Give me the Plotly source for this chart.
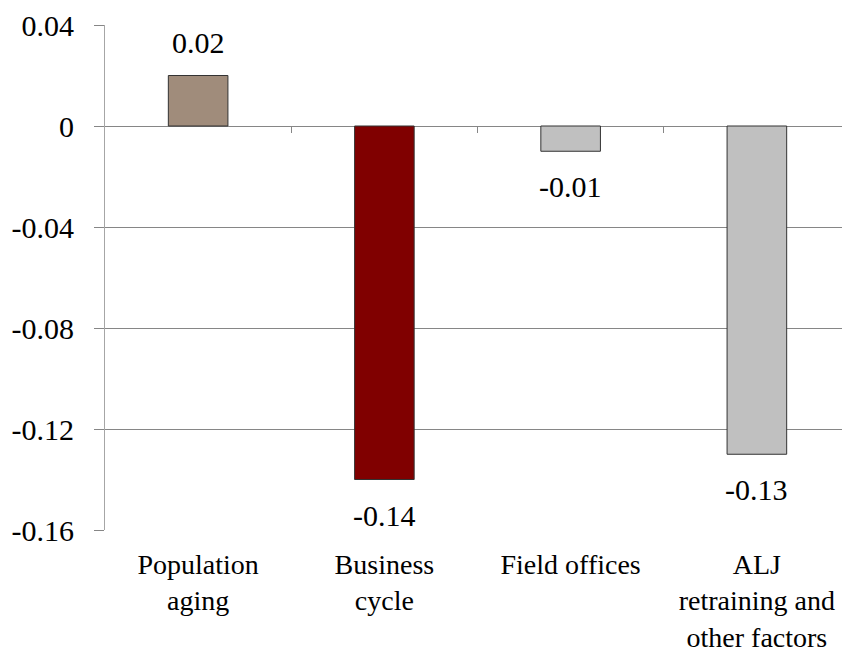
import plotly.graph_objects as go

categories = ["Population<br>aging", "Business<br>cycle", "Field offices", "ALJ<br>retraining and<br>other factors"]
values = [0.02, -0.14, -0.01, -0.13]
labels = ["0.02", "-0.14", "-0.01", "-0.13"]
colors = ["#A08C7B", "#800000", "#C0C0C0", "#C0C0C0"]
ytick_vals = [0.04, 0, -0.04, -0.08, -0.12, -0.16]
ytick_text = ["0.04", "0", "-0.04", "-0.08", "-0.12", "-0.16"]

FONT = "Liberation Serif"
fnt = dict(family=FONT, size=30, color="black")
xfnt = dict(family=FONT, size=28, color="black")
xs = list(range(len(categories)))

fig = go.Figure()
fig.add_trace(go.Bar(
    x=xs, y=values, width=0.32,
    marker=dict(color=colors, line=dict(color="#333333", width=1)),
    showlegend=False, hoverinfo="skip",
))
# invisible trace for the tick axis at zero
fig.add_trace(go.Scatter(x=[xs[0]], y=[0], xaxis="x2", mode="markers",
                         marker=dict(opacity=0), showlegend=False, hoverinfo="skip"))

for x, v, t in zip(xs, values, labels):
    fig.add_annotation(x=x, y=v, text=t, showarrow=False,
                       yanchor="bottom" if v >= 0 else "top",
                       yshift=15 if v >= 0 else -17,
                       font=fnt)

fig.update_layout(
    width=850, height=656,
    margin=dict(l=97, r=8, t=17, b=134, autoexpand=False),
    paper_bgcolor="white", plot_bgcolor="white",
    font=fnt,
    xaxis=dict(range=[-0.5, 3.5], tickvals=xs, ticktext=categories, tickfont=xfnt,
               showgrid=False, zeroline=False, showline=False, ticks="",
               ticklabelstandoff=15, automargin=False),
    xaxis2=dict(overlaying="x", anchor="free", position=0.8, range=[-0.5, 3.5],
                tickvals=[0.5, 1.5, 2.5], ticks="outside", ticklen=6, tickcolor="#868686",
                showticklabels=False, showgrid=False, showline=False, zeroline=False,
                side="bottom", automargin=False),
    yaxis=dict(range=[-0.16, 0.04], tickvals=ytick_vals, ticktext=ytick_text, tickfont=fnt,
               showgrid=True, gridcolor="#868686", gridwidth=1,
               zeroline=True, zerolinecolor="#868686", zerolinewidth=1,
               showline=True, linecolor="#A6A6A6", linewidth=1,
               ticks="outside", ticklen=10, tickcolor="#868686",
               ticklabelstandoff=14, automargin=False),
)

fig.write_html("out.html")
